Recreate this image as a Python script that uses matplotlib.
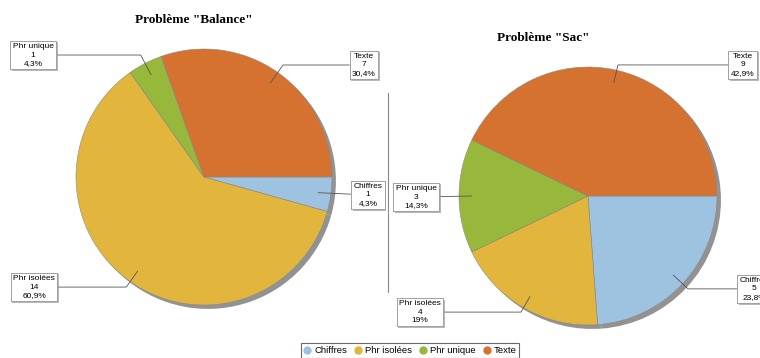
import matplotlib
matplotlib.use("Agg")
import matplotlib.pyplot as plt
from matplotlib.lines import Line2D
import matplotlib.patheffects as pe
import numpy as np

categories = ["Chiffres", "Phr isolées", "Phr unique", "Texte"]
balance_counts = [1, 14, 1, 7]
sac_counts = [5, 4, 3, 9]
colors = ["#9DC3E0", "#E2B53D", "#97B83A", "#D5722F"]
titles = ['Problème "Balance"', 'Problème "Sac"']

W, H = 760, 358
fig = plt.figure(figsize=(W / 100, H / 100), dpi=100)

def fmt_pct(p):
    s = f"{p:.1f}"
    if s.endswith(".0"):
        s = s[:-2]
    return s.replace(".", ",") + "%"

def draw_pie(counts, cx, cy, r, label_pos):
    ax = fig.add_axes([0, 0, 1, 1])
    wedges, _ = ax.pie(counts, colors=colors, startangle=0, counterclock=False,
                       radius=1.0,
                       wedgeprops=dict(linewidth=0.4, edgecolor="#8a8a8a"),
                       shadow=dict(ox=0.022, oy=-0.022, facecolor="#7f7f7f",
                                   edgecolor="none", alpha=0.85))
    fy = H - cy
    ax.set_xlim((0 - cx) / r, (W - cx) / r)
    ax.set_ylim((0 - fy) / r, (H - fy) / r)
    ax.axis("off")
    total = sum(counts)
    for w, cat, n, (tx, ty) in zip(wedges, categories, counts, label_pos):
        mid = np.deg2rad((w.theta1 + w.theta2) / 2)
        px, py = 0.9 * np.cos(mid), 0.9 * np.sin(mid)
        ang = np.rad2deg(mid)
        if abs(np.sin(mid)) < 0.3:
            cs = "arc3,rad=0"
        else:
            cs = f"angle,angleA=0,angleB={ang},rad=0"
        txt = f"{cat}\n{n}\n{fmt_pct(100 * n / total)}"
        t = ax.annotate(txt, xy=(px, py), xytext=(tx, ty),
                        ha="center", va="center", fontsize=6,
                        family="Liberation Sans", linespacing=1.25,
                        bbox=dict(boxstyle="square,pad=0.3", fc="white",
                                  ec="#9a9a9a", lw=0.6),
                        arrowprops=dict(arrowstyle="-", color="#555555", lw=0.6,
                                        shrinkA=0, shrinkB=0,
                                        connectionstyle=cs),
                        annotation_clip=False)
        t.get_bbox_patch().set_path_effects([
            pe.withSimplePatchShadow(offset=(1.2, -1.2), shadow_rgbFace="#999999", alpha=0.7),
            pe.Normal()])
    return ax

draw_pie(balance_counts, 204, 177, 128,
         [(1.28, -0.14), (-1.328, -0.86), (-1.336, 0.953), (1.25, 0.875)])
draw_pie(sac_counts, 588, 196, 129,
         [(1.287, -0.72), (-1.302, -0.90), (-1.333, -0.008), (1.20, 1.016)])

fig.text(194 / W, 1 - 20 / H, titles[0], ha="center", va="center",
         family="Liberation Serif", fontweight="bold", fontsize=9.5)
fig.text(543 / W, 1 - 38 / H, titles[1], ha="center", va="center",
         family="Liberation Serif", fontweight="bold", fontsize=9.5)

fig.add_artist(Line2D([388 / W, 388 / W], [1 - 292 / H, 1 - 93 / H],
                      transform=fig.transFigure, color="#888888", lw=0.8))

handles = [Line2D([], [], marker="o", linestyle="none", markersize=5,
                  markerfacecolor=c, markeredgecolor=c) for c in colors]
leg = fig.legend(handles, categories, loc="center", ncol=4,
                 bbox_to_anchor=(410 / W, 7.5 / H), frameon=True, fancybox=False,
                 edgecolor="#444444", prop=dict(family="Liberation Sans", size=6.8),
                 handlelength=0.8, handletextpad=0.3, columnspacing=0.8,
                 borderpad=0.3, borderaxespad=0)
leg.get_frame().set_linewidth(0.8)

fig.savefig("out.png", dpi=100)
